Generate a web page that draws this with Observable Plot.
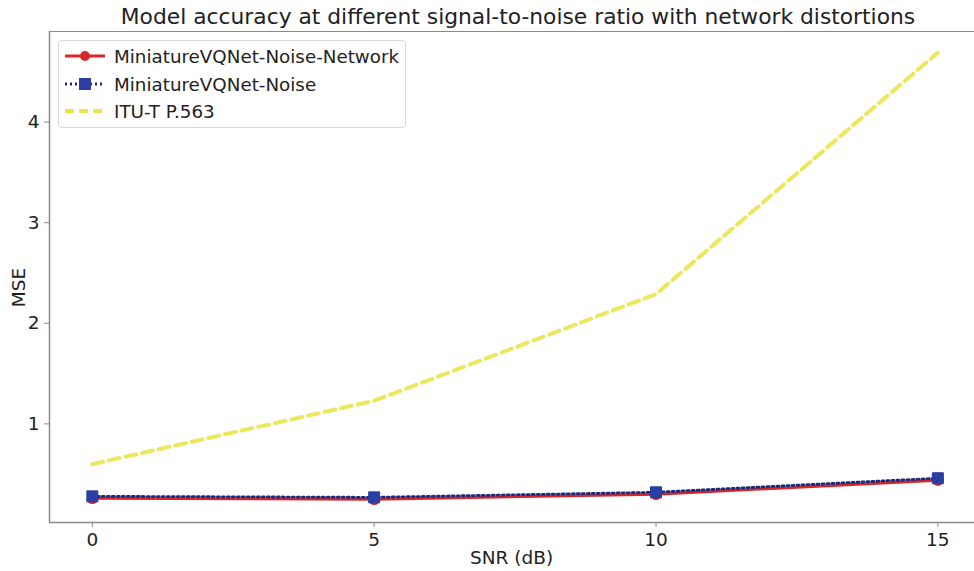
<!DOCTYPE html>
<html>
<head>
<meta charset="utf-8">
<script src="https://cdn.jsdelivr.net/npm/d3@7"></script>
<script src="https://cdn.jsdelivr.net/npm/@observablehq/plot@0.6"></script>
<style>
  body { margin: 0; background: #fff; font-family: "DejaVu Sans", sans-serif; }
  #wrap { position: relative; width: 974px; height: 571px; overflow: hidden; }
  #title { position: absolute; left: 62px; top: 4px; width: 912px; text-align: center; font-size: 21.8px; color: #222; white-space: nowrap; }
  #xlabel { position: absolute; left: 49px; width: 925px; top: 547px; text-align: center; font-size: 18.5px; color: #222; }
  #ylabel { position: absolute; left: 18px; top: 277px; font-size: 18.5px; color: #222; transform: translate(-50%, 0) rotate(-90deg); transform-origin: center; }
  #legend { position: absolute; left: 58px; top: 40px; width: 348px; height: 88px; border: 1px solid #d8d8d8; border-radius: 4px; background: rgba(255,255,255,0.85); box-sizing: border-box; }
  .row { position: absolute; left: 0; height: 24px; display: flex; align-items: center; font-size: 18.3px; color: #222; white-space: nowrap; }
  .row svg { margin-left: 4px; margin-right: 7px; }
</style>
</head>
<body>
<div id="wrap">
  <div id="chart"></div>
  <div id="title">Model accuracy at different signal-to-noise ratio with network distortions</div>
  <div id="xlabel">SNR (dB)</div>
  <div id="ylabel">MSE</div>
  <div id="legend"></div>
</div>
<script>
const snr = [0, 5, 10, 15];
const noiseNetwork = [0.26, 0.25, 0.30, 0.44];
const noiseOnly = [0.28, 0.27, 0.32, 0.46];
const itu = [0.60, 1.23, 2.29, 4.69];
const seriesNames = ["MiniatureVQNet-Noise-Network", "MiniatureVQNet-Noise", "ITU-T P.563"];
const xTicks = [0, 5, 10, 15];
const yTicks = [1, 2, 3, 4];
const xDomain = [-0.76, 15.65];
const yDomain = [0.02, 4.9];

const red = "#d8262a", blue = "#2a3ea6", navy = "#1c2a7a", yellow = "#e9e64c";

const rows = s => snr.map((x, i) => ({x, y: s[i]}));
const dNet = rows(noiseNetwork), dNoise = rows(noiseOnly), dItu = rows(itu);
const spine = "#8a8a8a";

const chart = Plot.plot({
  width: 974,
  height: 571,
  marginTop: 31,
  marginBottom: 49,
  marginLeft: 49,
  marginRight: 0,
  style: {fontFamily: "DejaVu Sans, sans-serif", fontSize: "18.5px", color: "#222", background: "#fff"},
  x: {domain: xDomain, ticks: xTicks, tickFormat: d3.format("d"), tickSize: 5, tickPadding: 5, label: null},
  y: {domain: yDomain, ticks: yTicks, tickFormat: d3.format("d"), tickSize: 5, tickPadding: 5, label: null},
  marks: [
    Plot.ruleY([yDomain[1]], {stroke: spine, strokeWidth: 1.2}),
    Plot.ruleY([yDomain[0]], {stroke: spine, strokeWidth: 1.5}),
    Plot.ruleX([xDomain[0]], {stroke: spine, strokeWidth: 1.5}),
    Plot.line(dItu, {x: "x", y: "y", stroke: yellow, strokeWidth: 4, strokeDasharray: "11,6", strokeOpacity: 0.9}),
    Plot.line(dNet, {x: "x", y: "y", stroke: red, strokeWidth: 2.8}),
    Plot.dot(dNet, {x: "x", y: "y", r: 5, fill: red, stroke: red}),
    Plot.line(dNoise, {x: "x", y: "y", stroke: navy, strokeWidth: 2.8, strokeDasharray: "2,3"}),
    Plot.dot(dNoise, {x: "x", y: "y", symbol: "square", r: 6.2, fill: blue, stroke: blue, strokeWidth: 1})
  ]
});
chart.querySelectorAll("[aria-label$='tick']").forEach(g => g.setAttribute("stroke", spine));
document.getElementById("chart").appendChild(chart);

const legend = document.getElementById("legend");
const samples = [
  `<line x1="2" y1="10" x2="42" y2="10" stroke="${red}" stroke-width="3"/><circle cx="22" cy="10" r="5" fill="${red}"/>`,
  `<line x1="2" y1="10" x2="42" y2="10" stroke="${navy}" stroke-width="3" stroke-dasharray="2,3"/><rect x="16" y="4" width="12" height="12" fill="${blue}"/>`,
  `<line x1="2" y1="10" x2="42" y2="10" stroke="${yellow}" stroke-width="4" stroke-dasharray="9,5"/>`
];
const tops = [3, 31, 58];
seriesNames.forEach((name, i) => {
  const r = document.createElement("div");
  r.className = "row";
  r.style.top = tops[i] + "px";
  r.innerHTML = `<svg width="44" height="20">${samples[i]}</svg><span>${name}</span>`;
  legend.appendChild(r);
});
</script>
</body>
</html>
